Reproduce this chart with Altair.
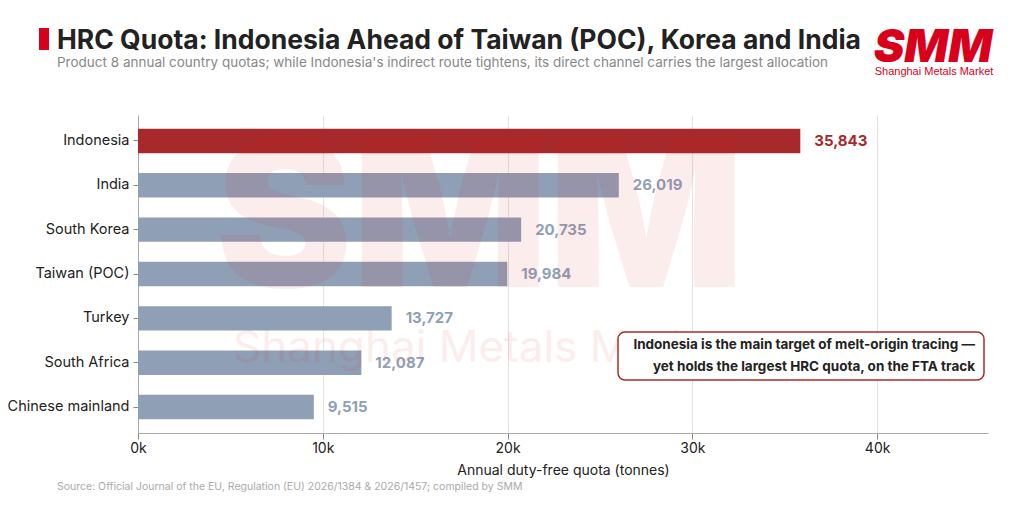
import altair as alt
import pandas as pd

countries = ["Indonesia", "India", "South Korea", "Taiwan (POC)", "Turkey", "South Africa", "Chinese mainland"]
quotas = [35843, 26019, 20735, 19984, 13727, 12087, 9515]
highlight = ["Indonesia"]

TITLE = "HRC Quota: Indonesia Ahead of Taiwan (POC), Korea and India"
SUBTITLE = "Product 8 annual country quotas; while Indonesia's indirect route tightens, its direct channel carries the largest allocation"
SOURCE = "Source: Official Journal of the EU, Regulation (EU) 2026/1384 & 2026/1457; compiled by SMM"
NOTE = ["Indonesia is the main target of melt-origin tracing \u2014", "yet holds the largest HRC quota, on the FTA track"]
AXIS_TITLE = "Annual duty-free quota (tonnes)"

df = pd.DataFrame({"country": countries, "quota": quotas})
df["hl"] = df["country"].isin(highlight)
one = pd.DataFrame({"k": [0]})

FONT = "Inter"
RED = "#a8292b"
GREY = "#8f9fb6"
W, H = 850, 318

color = alt.condition(alt.datum.hl, alt.value(RED), alt.value(GREY))

base = alt.Chart(df).encode(
    y=alt.Y("country:N", sort=countries, title=None,
            scale=alt.Scale(paddingInner=0.45, paddingOuter=0.31),
            axis=alt.Axis(labelFontSize=14.5, labelColor="#222", labelFont=FONT,
                          domainColor="#aaa", tickColor="#888", tickSize=5,
                          labelPadding=4, grid=False)),
)

bars = base.mark_bar().encode(
    x=alt.X("quota:Q", scale=alt.Scale(domain=[0, 46000], nice=False),
            title=AXIS_TITLE,
            axis=alt.Axis(values=[0, 10000, 20000, 30000, 40000],
                          labelExpr="datum.value/1000 + 'k'", labelFlush=False,
                          labelFontSize=14, labelColor="#222", labelFont=FONT,
                          titleFontSize=14, titleFont=FONT, titleColor="#222",
                          titleFontWeight="normal", titlePadding=8,
                          domainColor="#aaa", tickColor="#888", tickSize=6,
                          gridColor="#e2e2e2", grid=True)),
    color=color,
)

labels = base.mark_text(align="left", baseline="middle", dx=14, fontSize=15,
                        fontWeight="bold", font=FONT).encode(
    x="quota:Q",
    text=alt.Text("quota:Q", format=","),
    color=color,
)

wm1 = alt.Chart(one).mark_text(text="SMM", fontSize=205, fontWeight=900,
                               font=FONT, color="#e01010", opacity=0.07,
                               align="center", baseline="middle").encode(
    x=alt.value(342), y=alt.value(110))
wm2 = alt.Chart(one).mark_text(text="Shanghai Metals Market", fontSize=44, font=FONT,
                               color="#e01010", opacity=0.07,
                               align="left", baseline="middle").encode(
    x=alt.value(95), y=alt.value(234))

box = alt.Chart(one).mark_rect(fill="white", stroke="#b02a2a", strokeWidth=1.5,
                               cornerRadius=7).encode(
    x=alt.value(480), x2=alt.value(846), y=alt.value(217), y2=alt.value(265))
note = alt.Chart(one).mark_text(text=NOTE, align="right", baseline="middle", fontSize=13.5,
                                fontWeight="bold", font=FONT, color="#222",
                                lineHeight=22).encode(
    x=alt.value(837), y=alt.value(230))

redbar = alt.Chart(one).mark_rect(color="#d9001b").encode(
    x=alt.value(-99), x2=alt.value(-89), y=alt.value(-87), y2=alt.value(-65))
title = alt.Chart(one).mark_text(text=TITLE, align="left", baseline="alphabetic", fontSize=26.5,
                                 fontWeight="bold", font=FONT, color="#222").encode(
    x=alt.value(-81), y=alt.value(-66))
subtitle = alt.Chart(one).mark_text(text=SUBTITLE, align="left", baseline="alphabetic",
                                    fontSize=13.5, font=FONT, color="#888").encode(
    x=alt.value(-81), y=alt.value(-48))
logo = alt.Chart(one).mark_text(text="SMM", align="center", baseline="alphabetic", fontSize=46,
                                fontWeight=900, fontStyle="italic", font=FONT,
                                color="#d9001b").encode(
    x=alt.value(795), y=alt.value(-53))
logo2 = alt.Chart(one).mark_text(text="Shanghai Metals Market", align="center",
                                 baseline="alphabetic", fontSize=11, font="Liberation Sans",
                                 color="#d9001b").encode(
    x=alt.value(796), y=alt.value(-40))
source = alt.Chart(one).mark_text(text=SOURCE, align="left", baseline="alphabetic",
                                  fontSize=10.5, font=FONT, color="#aaa").encode(
    x=alt.value(-81), y=alt.value(375))

chart = alt.layer(
    bars, labels, wm1, wm2, box, note, redbar, title, subtitle, logo, logo2, source
).properties(
    width=W, height=H, background="white",
    autosize=alt.AutoSizeParams(type="none"),
    padding={"left": 130, "top": 107, "right": 28, "bottom": 60},
).configure_view(stroke=None)

chart.save("out.html", embed_options={"renderer": "svg", "actions": False})
